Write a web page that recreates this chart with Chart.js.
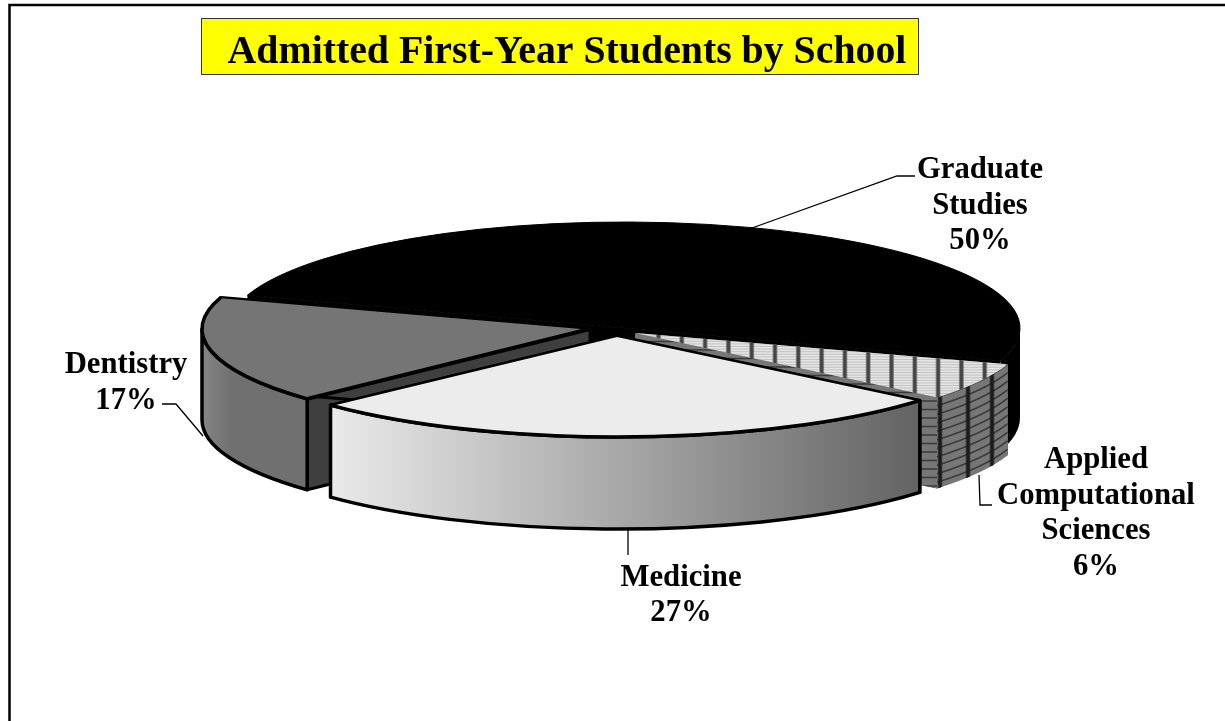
<!DOCTYPE html>
<html>
<head>
<meta charset="utf-8">
<style>
	html, body { margin: 0; padding: 0; background: #fff; }
	#wrap { width: 1225px; height: 721px; }
</style>
<script src="https://cdn.jsdelivr.net/npm/chart.js@4"></script>
</head>
<body>
<div id="wrap"><canvas id="pie"></canvas></div>
<script>
const chartTitle = "Admitted First-Year Students by School";
const schools = [["Graduate", "Studies"], ["Applied", "Computational", "Sciences"], ["Medicine"], ["Dentistry"]];
const shares = [50, 6, 27, 17];

// where each wedge sits on the page once the flat pie is tilted
const wedgeShapes = [
	{ cx: 624, cy: 328, rx: 396, ry: 106, depth: 90 },
	{ cx: 635, cy: 333, rx: 392, ry: 101, depth: 91 },
	{ cx: 617, cy: 336, rx: 393, ry: 101, depth: 92 },
	{ cx: 590, cy: 329, rx: 388, ry: 102, depth: 91 },
];
const wedgeColors = ["#000000", "#e4e4e4", "#ececec", "#757575"];
const labelSpots = [
	{ x: 980, y: 178 },
	{ x: 1096, y: 468 },
	{ x: 681, y: 585.5 },
	{ x: 126, y: 373 },
];
const leaders = [
	[[752, 228], [897, 176], [915, 176]],
	[[979, 475], [980, 505], [992, 505]],
	[[628, 530], [628, 555]],
	[[203, 436], [176, 404], [162, 404]],
];
// line weight of the two straight top edges: start angle, end angle
const edgeWeights = [null, null, [2.2, 2.2], [4, 1.5]];
const LABEL_FONT = "bold 30.7px 'Liberation Serif'";
const LINE_GAP = 35.5;

function sectorPath(ctx, s, start, end) {
	ctx.beginPath();
	ctx.moveTo(s.cx, s.cy);
	ctx.ellipse(s.cx, s.cy, s.rx, s.ry, 0, start, end);
	ctx.closePath();
}

function cornerAt(s, angle) {
	return [s.cx + Math.cos(angle) * s.rx, s.cy + Math.sin(angle) * s.ry];
}

function cutWallPath(ctx, s, angle) {
	const c = cornerAt(s, angle);
	ctx.beginPath();
	ctx.moveTo(s.cx, s.cy);
	ctx.lineTo(c[0], c[1]);
	ctx.lineTo(c[0], c[1] + s.depth);
	ctx.lineTo(s.cx, s.cy + s.depth);
	ctx.closePath();
}

// part of the rim that faces the viewer (sin > 0)
function frontRange(start, end) {
	const TAU = Math.PI * 2;
	let a = start % TAU;
	if (a < 0) a += TAU;
	const b = a + (end - start);
	if (a < Math.PI) return [a, Math.min(b, Math.PI)];
	if (b > TAU) return [TAU, Math.min(b, TAU + Math.PI)];
	return null;
}

function rimPath(ctx, s, a, b) {
	ctx.beginPath();
	ctx.ellipse(s.cx, s.cy, s.rx, s.ry, 0, a, b);
	ctx.ellipse(s.cx, s.cy + s.depth, s.rx, s.ry, 0, b, a, true);
	ctx.closePath();
}

function rimFill(ctx, i, s) {
	if (i === 2) {
		const g = ctx.createLinearGradient(s.cx - s.rx * 0.75, 0, s.cx + s.rx * 0.77, 0);
		g.addColorStop(0, "#ececec");
		g.addColorStop(1, "#636363");
		return g;
	}
	if (i === 3) {
		const g = ctx.createLinearGradient(s.cx - s.rx, 0, s.cx - s.rx + 30, 0);
		g.addColorStop(0, "#858585");
		g.addColorStop(1, "#707070");
		return g;
	}
	return i === 0 ? "#000000" : "#777777";
}

function softStripe(ctx, x, y0, y1, color) {
	ctx.strokeStyle = color;
	[[5, 0.45], [3.5, 0.8], [2, 1]].forEach((w) => {
		ctx.lineWidth = w[0];
		ctx.globalAlpha = w[1];
		ctx.beginPath();
		ctx.moveTo(x, y0);
		ctx.lineTo(x, y1);
		ctx.stroke();
	});
	ctx.globalAlpha = 1;
}

function hatchTop(ctx, s, start, end) {
	ctx.save();
	sectorPath(ctx, s, start, end);
	ctx.clip();
	ctx.strokeStyle = "rgba(120,120,120,0.3)";
	ctx.lineWidth = 1;
	for (let y = s.cy; y < s.cy + s.ry; y += 2.6) {
		ctx.beginPath();
		ctx.moveTo(s.cx, y + 0.5);
		ctx.lineTo(s.cx + s.rx, y + 0.5);
		ctx.stroke();
	}
	for (let x = s.cx + 23.5; x < s.cx + s.rx; x += 23.3) {
		softStripe(ctx, x, s.cy, s.cy + s.ry, "#444444");
	}
	ctx.restore();
}

function hatchRim(ctx, s, start, end) {
	ctx.save();
	rimPath(ctx, s, start, end);
	ctx.clip();
	ctx.strokeStyle = "#3a3a3a";
	ctx.lineWidth = 1.5;
	for (let d = 0; d < s.depth; d += 8.5) {
		ctx.beginPath();
		ctx.ellipse(s.cx, s.cy + d, s.rx, s.ry, 0, start, end);
		ctx.stroke();
	}
	[940, 968, 992].forEach((x) => softStripe(ctx, x, s.cy, s.cy + s.ry + s.depth, "#1c1c1c"));
	ctx.restore();
}

function hatchCut(ctx, s, angle) {
	ctx.save();
	cutWallPath(ctx, s, angle);
	ctx.clip();
	ctx.strokeStyle = "#3a3a3a";
	ctx.lineWidth = 1.5;
	for (let y = s.cy; y < s.cy + s.ry + s.depth; y += 8.5) {
		ctx.beginPath();
		ctx.moveTo(s.cx, y);
		ctx.lineTo(s.cx + s.rx, y);
		ctx.stroke();
	}
	ctx.restore();
}

function strokeEdge(ctx, s, angle, weight) {
	const c = cornerAt(s, angle);
	ctx.lineWidth = weight;
	ctx.beginPath();
	ctx.moveTo(s.cx, s.cy);
	ctx.lineTo(c[0], c[1]);
	ctx.stroke();
}

const tiltedPie = {
	id: "tiltedPie",
	beforeDatasetsDraw(chart) {
		const ctx = chart.ctx;
		const arcs = chart.getDatasetMeta(0).data;
		[0, 1, 3, 2].forEach((i) => {
			const arc = arcs[i];
			const s = wedgeShapes[i];
			const weights = edgeWeights[i];
			ctx.save();
			ctx.lineJoin = "round";
			ctx.strokeStyle = "#000000";

			// cut faces
			const cutColor = i === 0 ? "#000000" : i === 3 ? "#3f3f3f" : "#555555";
			[arc.startAngle, arc.endAngle].forEach((angle) => {
				cutWallPath(ctx, s, angle);
				ctx.fillStyle = cutColor;
				ctx.fill();
				if (weights) { ctx.lineWidth = 3; ctx.stroke(); }
			});
			if (i === 1) {
				cutWallPath(ctx, s, arc.endAngle);
				ctx.fillStyle = "#777777";
				ctx.fill();
				hatchCut(ctx, s, arc.endAngle);
			}

			// outer rim
			const range = frontRange(arc.startAngle, arc.endAngle);
			if (range) {
				rimPath(ctx, s, range[0], range[1]);
				ctx.fillStyle = rimFill(ctx, i, s);
				ctx.fill();
				if (i === 1) hatchRim(ctx, s, range[0], range[1]);
				if (weights) { ctx.lineWidth = 3.5; rimPath(ctx, s, range[0], range[1]); ctx.stroke(); }
			}

			// top face, drawn by the arc element itself squashed into place
			ctx.save();
			ctx.translate(s.cx, s.cy);
			ctx.scale(s.rx / arc.outerRadius, s.ry / arc.outerRadius);
			ctx.translate(-arc.x, -arc.y);
			arc.draw(ctx);
			ctx.restore();
			if (i === 0) {
				sectorPath(ctx, s, arc.startAngle, arc.endAngle);
				ctx.lineWidth = 1;
				ctx.stroke();
			}
			if (i === 1) hatchTop(ctx, s, arc.startAngle, arc.endAngle);
			if (weights) {
				ctx.lineWidth = 3.5;
				ctx.beginPath();
				ctx.ellipse(s.cx, s.cy, s.rx, s.ry, 0, arc.startAngle, arc.endAngle);
				ctx.stroke();
				strokeEdge(ctx, s, arc.startAngle, weights[0]);
				strokeEdge(ctx, s, arc.endAngle, weights[1]);
			}
			ctx.restore();
		});
		return false;
	},
	afterDraw(chart) {
		const ctx = chart.ctx;
		ctx.save();

		// outer frame
		ctx.strokeStyle = "#000000";
		ctx.lineWidth = 2.5;
		ctx.beginPath();
		ctx.moveTo(9.5, 721);
		ctx.lineTo(9.5, 5);
		ctx.lineTo(1225, 5);
		ctx.stroke();

		// title box
		ctx.fillStyle = "#ffff00";
		ctx.fillRect(201.5, 18.5, 717, 56);
		ctx.strokeStyle = "#333333";
		ctx.lineWidth = 1;
		ctx.strokeRect(201.5, 18.5, 717, 56);
		ctx.fillStyle = "#000000";
		ctx.font = "bold 39.8px 'Liberation Serif'";
		ctx.textAlign = "center";
		ctx.textBaseline = "alphabetic";
		ctx.fillText(chartTitle, 567, 63);

		// leader lines
		ctx.strokeStyle = "#000000";
		ctx.lineWidth = 1.3;
		leaders.forEach((pts) => {
			ctx.beginPath();
			pts.forEach((p, k) => (k ? ctx.lineTo(p[0], p[1]) : ctx.moveTo(p[0], p[1])));
			ctx.stroke();
		});

		// labels
		ctx.font = LABEL_FONT;
		schools.forEach((lines, i) => {
			const all = lines.concat(shares[i] + "%");
			all.forEach((line, k) => ctx.fillText(line, labelSpots[i].x, labelSpots[i].y + k * LINE_GAP));
		});
		ctx.restore();
	},
};

new Chart(document.getElementById("pie"), {
	type: "pie",
	data: {
		labels: schools,
		datasets: [{
			data: shares,
			backgroundColor: wedgeColors,
			borderWidth: 0,
		}],
	},
	options: {
		responsive: true,
		maintainAspectRatio: false,
		animation: false,
		rotation: 288,
		plugins: {
			legend: { display: false },
			tooltip: { enabled: false },
		},
	},
	plugins: [tiltedPie],
});
</script>
</body>
</html>
